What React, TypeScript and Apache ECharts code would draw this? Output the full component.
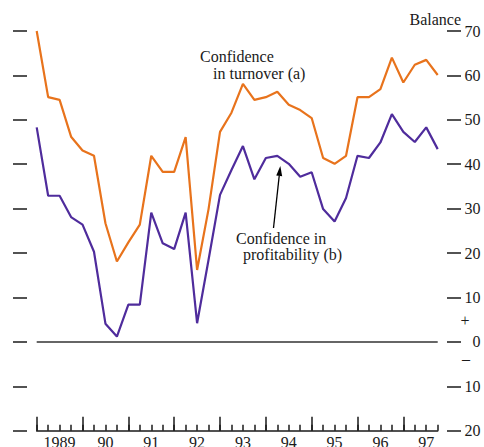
import React, { useEffect, useRef } from "react";
import * as echarts from "echarts";

const years = ["1989", "1990", "1991", "1992", "1993", "1994", "1995", "1996", "1997"];
const yearLabels = ["1989", "90", "91", "92", "93", "94", "95", "96", "97"];
const quarters: string[] = [];
years.forEach((y) => ["Q1", "Q2", "Q3", "Q4"].forEach((q) => quarters.push(y + q)));

const turnover = [
  70, 55.1, 54.5, 46.2, 43.1, 41.9, 26.7, 18.1, 22.4, 26.4, 41.9, 38.3,
  38.3, 46.1, 16.2, 29.9, 47.3, 51.6, 58.1, 54.5, 55.1, 56.3, 53.4, 52.2,
  50.4, 41.4, 40.1, 41.9, 55.1, 55.1, 56.9, 64.0, 58.4, 62.4, 63.5, 60.1,
];
const profitability = [
  48.3, 32.9, 32.9, 28.1, 26.4, 20.3, 4.1, 1.2, 8.4, 8.4, 29.1, 22.2,
  20.9, 29.1, 4.2, 18.5, 33.1, 38.7, 44.1, 36.6, 41.4, 41.9, 40.1, 37.2,
  38.2, 29.9, 27.1, 32.4, 41.9, 41.4, 44.9, 51.3, 47.3, 45.0, 48.3, 43.4,
];
const yMin = -20;
const yMax = 70;
const yStep = 10;

const FONT = '"Liberation Serif", "Times New Roman", serif';
const ORANGE = "#E8731C";
const PURPLE = "#4F2C9C";
const INK = "#1a1a1a";

export default function App() {
  const ref = useRef<HTMLDivElement>(null);
  useEffect(() => {
    document.body.style.margin = "0";
    const chart = echarts.init(ref.current!, null, { renderer: "svg" });

    // arrow geometry
    const tail = [273.5, 228];
    const tip = [280.3, 166];
    const dx = tip[0] - tail[0];
    const dy = tip[1] - tail[1];
    const len = Math.sqrt(dx * dx + dy * dy);
    const ux = dx / len;
    const uy = dy / len;
    const hl = 10;
    const hw = 3;
    const bx = tip[0] - ux * hl;
    const by = tip[1] - uy * hl;
    const px = -uy;
    const py = ux;

    const tickStyle = { color: INK, width: 1.5 };

    chart.setOption({
      animation: false,
      grid: {
        left: 36.7,
        right: 46.3,
        top: 31,
        bottom: 16.3,
        containLabel: false,
        outerBoundsMode: "none",
      },
      xAxis: [
        {
          type: "category",
          data: quarters,
          boundaryGap: false,
          position: "bottom",
          axisLine: { show: true, onZero: false, lineStyle: tickStyle },
          axisTick: { show: true, inside: true, length: 6, interval: 0, lineStyle: tickStyle },
          axisLabel: {
            show: true,
            interval: (i: number) => i % 4 === 2,
            formatter: (_v: string, i: number) => yearLabels[Math.floor(i / 4)],
            margin: 4,
            fontFamily: FONT,
            fontSize: 16,
            color: INK,
          },
          splitLine: { show: false },
        },
        {
          type: "category",
          data: quarters,
          boundaryGap: false,
          position: "bottom",
          axisLine: { show: false, onZero: false },
          axisTick: {
            show: true,
            inside: true,
            length: 14,
            interval: (i: number) => i % 4 === 0,
            lineStyle: tickStyle,
          },
          axisLabel: { show: false },
          splitLine: { show: false },
        },
      ],
      yAxis: [
        {
          type: "value",
          position: "left",
          min: yMin,
          max: yMax,
          interval: yStep,
          offset: 9.7,
          axisLine: { show: false },
          axisTick: { show: true, inside: false, length: 14, lineStyle: tickStyle },
          axisLabel: { show: false },
          splitLine: { show: false },
        },
        {
          type: "value",
          position: "right",
          min: yMin,
          max: yMax,
          interval: yStep,
          offset: 9.3,
          axisLine: { show: false },
          axisTick: { show: true, inside: false, length: 14, lineStyle: tickStyle },
          axisLabel: {
            show: true,
            align: "right",
            margin: 33.5,
            formatter: (v: number) => String(Math.abs(v)),
            fontFamily: FONT,
            fontSize: 16,
            color: INK,
          },
          splitLine: { show: false },
        },
      ],
      series: [
        {
          name: "Confidence in turnover (a)",
          type: "line",
          data: turnover,
          xAxisIndex: 0,
          yAxisIndex: 0,
          symbol: "none",
          lineStyle: { color: ORANGE, width: 2.2 },
          z: 3,
          markLine: {
            silent: true,
            symbol: "none",
            label: { show: false },
            lineStyle: { color: "#333", width: 1.6, type: "solid" },
            data: [{ yAxis: 0 }],
          },
        },
        {
          name: "Confidence in profitability (b)",
          type: "line",
          data: profitability,
          xAxisIndex: 0,
          yAxisIndex: 0,
          symbol: "none",
          lineStyle: { color: PURPLE, width: 2.2 },
          z: 4,
        },
      ],
      graphic: [
        {
          type: "text",
          x: 409.5,
          y: 19.5,
          style: { text: "Balance", font: `16px ${FONT}`, fill: INK, verticalAlign: "middle" },
        },
        {
          type: "text",
          x: 200,
          y: 56.3,
          style: { text: "Confidence", font: `16px ${FONT}`, fill: INK, verticalAlign: "middle" },
        },
        {
          type: "text",
          x: 213,
          y: 73.8,
          style: { text: "in turnover (a)", font: `16px ${FONT}`, fill: INK, verticalAlign: "middle" },
        },
        {
          type: "text",
          x: 236,
          y: 238.6,
          style: { text: "Confidence in", font: `16px ${FONT}`, fill: INK, verticalAlign: "middle" },
        },
        {
          type: "text",
          x: 243,
          y: 254,
          style: { text: "profitability (b)", font: `16px ${FONT}`, fill: INK, verticalAlign: "middle" },
        },
        {
          type: "text",
          x: 465,
          y: 320.5,
          style: { text: "+", font: `16px ${FONT}`, fill: INK, align: "center", verticalAlign: "middle" },
        },
        {
          type: "text",
          x: 466,
          y: 358,
          style: { text: "–", font: `16px ${FONT}`, fill: INK, align: "center", verticalAlign: "middle" },
        },
        {
          type: "line",
          shape: { x1: tail[0], y1: tail[1], x2: bx, y2: by },
          style: { stroke: "#000", lineWidth: 1.3 },
        },
        {
          type: "polygon",
          shape: {
            points: [
              [tip[0], tip[1]],
              [bx + px * hw, by + py * hw],
              [bx - px * hw, by - py * hw],
            ],
          },
          style: { fill: "#000" },
        },
      ],
    });
    return () => chart.dispose();
  }, []);
  return (
    <div
      ref={ref}
      style={{ position: "absolute", left: 0, top: 0, width: 484, height: 447 }}
    />
  );
}
